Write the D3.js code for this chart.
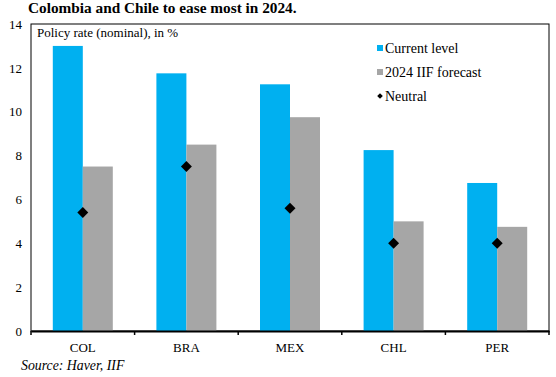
<!DOCTYPE html>
<html>
<head>
<meta charset="utf-8">
<style>
  body { margin: 0; background: #fff; }
  text { font-family: "Liberation Serif", "DejaVu Serif", serif; fill: #000; }
</style>
<script src="https://d3js.org/d3.v7.min.js"></script>
</head>
<body>
<div id="chart"></div>
<script>
var countries = ["COL", "BRA", "MEX", "CHL", "PER"];
var current = [13.0, 11.75, 11.25, 8.25, 6.75];
var forecast = [7.5, 8.5, 9.75, 5.0, 4.75];
var neutral = [5.4, 7.5, 5.6, 4.0, 4.0];
var yTicks = [0, 2, 4, 6, 8, 10, 12, 14];
var legendLabels = ["Current level", "2024 IIF forecast", "Neutral"];

var W = 556, H = 377;
var margin = { top: 24, right: 7, bottom: 46, left: 31 };
var width = W - margin.left - margin.right,
    height = H - margin.top - margin.bottom;

var svg = d3.select("#chart").append("svg")
    .attr("width", W)
    .attr("height", H);

svg.append("text")
    .attr("x", 28).attr("y", 13)
    .attr("font-size", 15.3).attr("font-weight", "bold")
    .text("Colombia and Chile to ease most in 2024.");

var g = svg.append("g")
    .attr("transform", "translate(" + margin.left + "," + margin.top + ")");

var x = d3.scaleBand().domain(countries).range([0, width]);
var y = d3.scaleLinear().domain([0, 14]).range([height, 0]);
var barW = 30;

// frame
g.append("rect")
    .attr("width", width).attr("height", height)
    .attr("fill", "none").attr("stroke", "#000").attr("stroke-width", 1);

var groups = g.selectAll(".grp").data(countries).enter().append("g")
    .attr("transform", d => "translate(" + (x(d) + x.bandwidth() / 2) + ",0)");

groups.append("rect")
    .attr("x", -barW).attr("width", barW)
    .attr("y", (d, i) => y(current[i]))
    .attr("height", (d, i) => y(0) - y(current[i]))
    .attr("fill", "#00B0F0");

groups.append("rect")
    .attr("x", 0).attr("width", barW)
    .attr("y", (d, i) => y(forecast[i]))
    .attr("height", (d, i) => y(0) - y(forecast[i]))
    .attr("fill", "#A6A6A6");

groups.append("path")
    .attr("d", d3.symbol().type(d3.symbolSquare).size(60))
    .attr("transform", (d, i) => "translate(0," + y(neutral[i]) + ") rotate(45)")
    .attr("fill", "#000");

// y axis labels
var yx = g.append("g")
    .call(d3.axisLeft(y).tickValues(yTicks).tickSize(0).tickPadding(9));
yx.select(".domain").remove();
yx.selectAll("text").attr("font-size", 13).attr("font-family", "Liberation Serif, serif");

// x axis
var xx = g.append("g")
    .attr("transform", "translate(0," + height + ")")
    .call(d3.axisBottom(x).tickSize(0).tickPadding(12));
xx.select(".domain").attr("stroke-width", 2);
xx.selectAll("text").attr("font-size", 13).attr("font-family", "Liberation Serif, serif");
g.append("g").selectAll("line")
    .data(countries.concat(["end"]))
    .enter().append("line")
    .attr("x1", (d, i) => i < countries.length ? x(d) : width)
    .attr("x2", (d, i) => i < countries.length ? x(d) : width)
    .attr("y1", height).attr("y2", height + 4)
    .attr("stroke", "#000").attr("stroke-width", 1.5);

g.append("text")
    .attr("x", 6).attr("y", 13)
    .attr("font-size", 13)
    .text("Policy rate (nominal), in %");

// legend
var leg = g.append("g").attr("transform", "translate(346,26)");
legendLabels.forEach(function (lab, i) {
    var row = leg.append("g").attr("transform", "translate(0," + (i * 24) + ")");
    if (i < 2) {
        row.append("rect").attr("x", 0).attr("y", -5).attr("width", 6).attr("height", 6)
            .attr("fill", i === 0 ? "#00B0F0" : "#A6A6A6");
    } else {
        row.append("path")
            .attr("d", d3.symbol().type(d3.symbolSquare).size(16))
            .attr("transform", "translate(3,-2) rotate(45)")
            .attr("fill", "#000");
    }
    row.append("text").attr("x", 8).attr("y", 3).attr("font-size", 14).text(lab);
});

svg.append("text")
    .attr("x", 21).attr("y", 370)
    .attr("font-size", 13.8).attr("font-style", "italic")
    .text("Source: Haver, IIF");
</script>
</body>
</html>
